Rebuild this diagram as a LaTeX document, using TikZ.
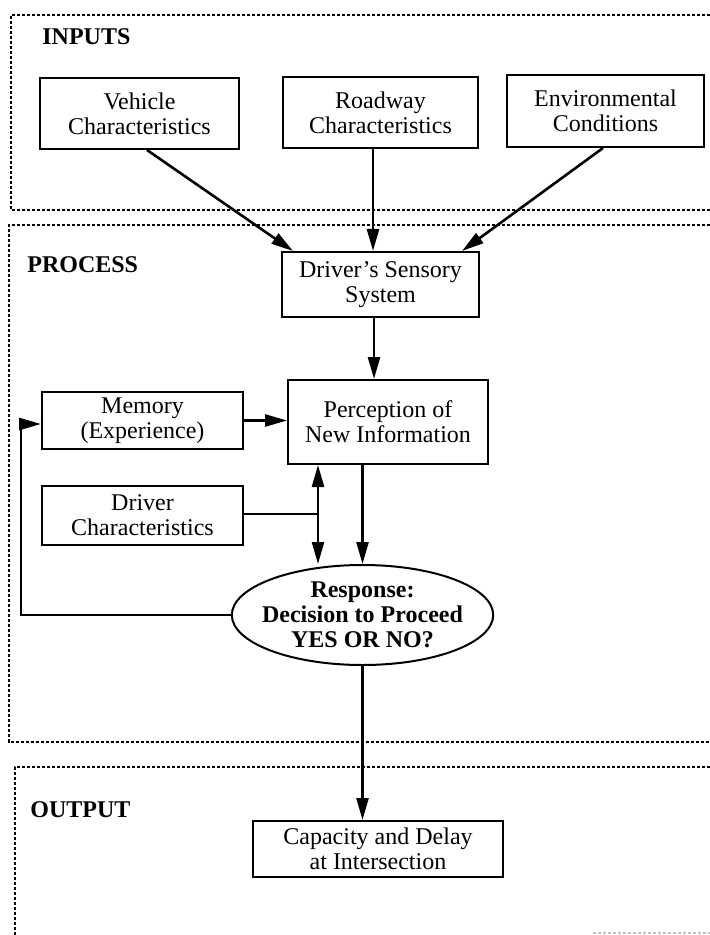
\documentclass[tikz,border=0pt]{standalone}
\usepackage{fontspec}
\setmainfont{Liberation Serif}
\usetikzlibrary{positioning,arrows.meta,shapes.geometric}

\tikzset{
  box/.style={draw, line width=1pt, align=center, inner sep=2pt,
    font=\fontsize{12}{12.5}\selectfont},
  decision/.style={draw, ellipse, line width=1pt, align=center,
    inner xsep=-4pt, inner ysep=-1pt, minimum width=130.5pt, minimum height=50pt,
    font=\fontsize{12}{12.5}\selectfont\bfseries},
  panel/.style={line width=0.8pt, dash pattern=on 1.6pt off 0.9pt},
  flow/.style={line width=1.3pt, -{Triangle[length=11pt,width=6pt]}},
  wire/.style={line width=1.3pt},
  paneltitle/.style={anchor=base west, inner sep=0pt,
    font=\fontsize{12}{12.5}\selectfont\bfseries},
}

\begin{document}
\begin{tikzpicture}[x=0.5pt, y=-0.5pt]
\clip (0,0) rectangle (710,935);

%% panels
\draw[panel] (730,15) -- (11,15) -- (11,210) -- (730,210);
\draw[panel] (730,225) -- (9,225) -- (9,742) -- (730,742);
\draw[panel] (730,767) -- (15,767) -- (15,950);
\draw[panel, black!25] (593,933) -- (730,933);

\node[paneltitle] (t_inputs) at (42,45) {INPUTS};
\node[paneltitle] (t_process) at (27,273) {PROCESS};
\node[paneltitle] (t_output) at (30,817) {OUTPUT};

%% INPUTS
\node[box, minimum width=99.5pt, minimum height=35.5pt] (veh_char) at (139.5,113.5) {Vehicle\\Characteristics};
\node[box, minimum width=97.5pt, minimum height=35.5pt] (road_char) at (380.5,112.5) {Roadway\\Characteristics};
\node[box, minimum width=98.5pt, minimum height=36pt] (env_cond) at (605.5,111) {Environmental\\Conditions};

%% PROCESS
\node[box, minimum width=98.5pt, minimum height=32.5pt] (sensory) at (380.5,284.5) {Driver's Sensory\\System};
\node[box, minimum width=100pt, minimum height=42pt] (perception) at (388,422) {Perception of\\New Information};
\node[box, minimum width=100.5pt, minimum height=28.5pt] (memory) at (142.5,420.5) {Memory\\(Experience)};
\node[box, minimum width=100.5pt, minimum height=29.5pt] (driver_char) at (142.5,515.5) {Driver\\Characteristics};
\node[decision] (response) at (362.5,615) {Response:\\Decision to Proceed\\YES OR NO?};

\coordinate (join) at (318,514);

\draw[flow] ([xshift=3.75pt]veh_char.south) -- ([xshift=-43.75pt]sensory.north);
\draw[flow] ([xshift=-3.75pt]road_char.south) -- ([xshift=-3.75pt]sensory.north);
\draw[flow] ([xshift=-1.25pt]env_cond.south) -- ([xshift=40.75pt]sensory.north);
\draw[flow] ([xshift=-3.25pt]sensory.south) -- ([xshift=-3.25pt]sensory.south |- perception.north);

\draw[flow] (memory.east) -- (memory.east -| perception.west);
\draw[wire] (driver_char.east |- join) -- (join);
\draw[flow] (join) -- (join |- perception.south);
\draw[flow] (join) -- (join |- response.north);
\draw[flow] (response.north |- perception.south) -- (response.north);

% feedback loop
\draw[flow] (response.west) -- ++(-210,0) |- ([yshift=-1.75pt]memory.west);

%% OUTPUT
\node[box, minimum width=125pt, minimum height=28pt] (capacity) at (378,849) {Capacity and Delay\\at Intersection};

\draw[flow] (response.south) -- (response.south |- capacity.north);

\end{tikzpicture}
\end{document}
